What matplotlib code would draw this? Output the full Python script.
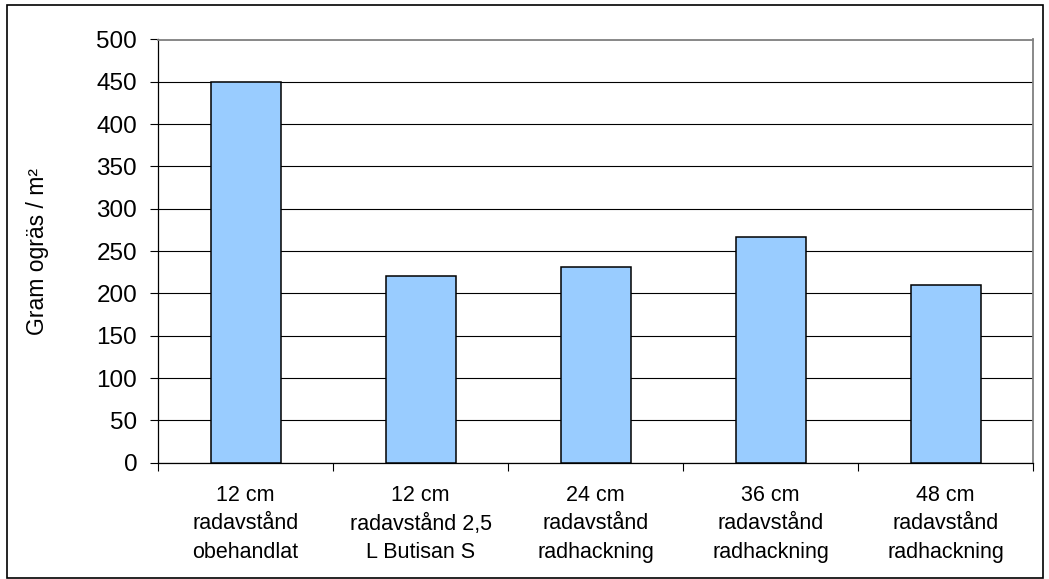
import matplotlib
matplotlib.use("Agg")
import matplotlib.pyplot as plt
from matplotlib.patches import Rectangle

categories = ["12 cm\nradavstånd\nobehandlat",
              "12 cm\nradavstånd 2,5\nL Butisan S",
              "24 cm\nradavstånd\nradhackning",
              "36 cm\nradavstånd\nradhackning",
              "48 cm\nradavstånd\nradhackning"]
values = [450, 220, 231, 267, 210]
yticks = [0, 50, 100, 150, 200, 250, 300, 350, 400, 450, 500]
ylabel = "Gram ogräs / m²"

plt.rcParams['font.family'] = ['Liberation Sans', 'DejaVu Sans']

fig = plt.figure(figsize=(10.49, 5.79), dpi=100)
ax = fig.add_axes([158/1049, 1-462.7/579, (1033-158)/1049, (462.7-39.5)/579])

x = list(range(len(categories)))
ax.bar(x, values, width=0.4, color="#99CCFF", edgecolor="black", linewidth=1.1, zorder=3)

ax.set_xlim(-0.5, len(categories)-0.5)
ax.set_ylim(0, 500)
ax.set_yticks(yticks)
ax.set_yticklabels([str(v) for v in yticks], fontsize=17.5)
ax.yaxis.grid(True, color="black", linewidth=0.8, zorder=0)
ax.set_axisbelow(True)

ax.set_xticks(x)
ax.set_xticklabels(categories, fontsize=15.5, linespacing=1.47)
ax.tick_params(axis='x', length=0, pad=16)
ax.set_xticks([i - 0.5 for i in range(len(categories)+1)], minor=True)
ax.tick_params(axis='x', which='minor', length=6, width=0.8, direction='out')
ax.tick_params(axis='y', length=6, width=0.8, direction='out', pad=9)

for s in ['left', 'bottom']:
    ax.spines[s].set_color('black')
    ax.spines[s].set_linewidth(0.9)
for s in ['top', 'right']:
    ax.spines[s].set_color('#808080')
    ax.spines[s].set_linewidth(1.3)

ax.set_ylabel(ylabel, fontsize=16.5, labelpad=34)

fig.patches.append(Rectangle((7/1049, 1/579), (1043-7)/1049, (577-4)/579,
                             transform=fig.transFigure, fill=False,
                             edgecolor='black', linewidth=1.2))

fig.savefig("out.png", dpi=100, facecolor="white")
